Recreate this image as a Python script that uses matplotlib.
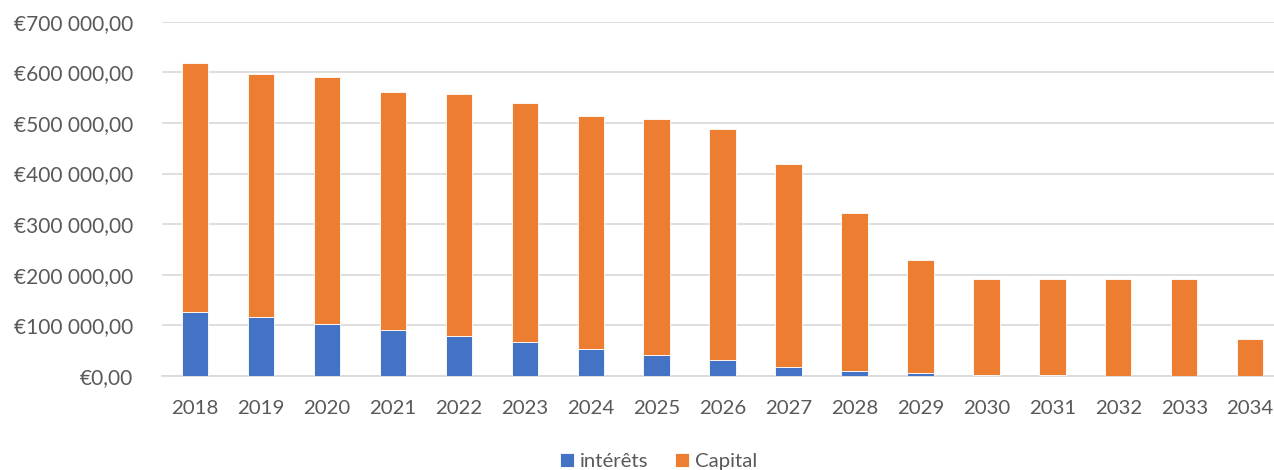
import matplotlib
matplotlib.use("Agg")
import matplotlib.pyplot as plt
from matplotlib.ticker import FuncFormatter, MultipleLocator

years = ["2018", "2019", "2020", "2021", "2022", "2023", "2024", "2025", "2026",
         "2027", "2028", "2029", "2030", "2031", "2032", "2033", "2034"]
totals = [617800, 596600, 590700, 561600, 556400, 539900, 513500, 508000, 488000,
          418000, 322000, 230000, 191200, 191200, 191200, 191200, 74000]
interets = [126600, 116000, 103600, 91000, 79000, 67200, 53400, 42300, 31600,
            18500, 9900, 6000, 2200, 1800, 800, 500, 300]
capital = [t - i for t, i in zip(totals, interets)]

plt.rcParams['font.family'] = ['Lato', 'DejaVu Sans']
fig = plt.figure(figsize=(12.74, 4.70), dpi=100)
ax = fig.add_axes([0.1272, 0.2, 0.880, 0.7538])

x = list(range(len(years)))
w = 0.40
ax.bar(x, interets, w, color="#4472C4", edgecolor="#ffffff", linewidth=0.6, label="intérêts", zorder=3)
ax.bar(x, capital, w, bottom=interets, color="#ED7D31", edgecolor="#ffffff", linewidth=0.6, label="Capital", zorder=3)

ax.set_xlim(-0.5, len(years) - 0.5)
ax.set_ylim(0, 700000)
ax.yaxis.set_major_locator(MultipleLocator(100000))

def fmt(v, pos):
    s = f"{int(round(v)):,}".replace(",", " ")
    return f"€{s},00"
ax.yaxis.set_major_formatter(FuncFormatter(fmt))
ax.set_xticks(x)
ax.set_xticklabels(years)

ax.grid(axis="y", color="#D9D9D9", linewidth=1.2, zorder=0)
for s in ["top", "right", "left"]:
    ax.spines[s].set_visible(False)
ax.spines["bottom"].set_color("#D9D9D9")
ax.spines["bottom"].set_linewidth(1.2)
ax.tick_params(axis="both", length=0, colors="#595959")
ax.tick_params(axis="y", pad=21, labelsize=15)
ax.tick_params(axis="x", pad=17, labelsize=14.7)

leg = fig.legend(loc="lower center", bbox_to_anchor=(0.517, -0.04), ncol=2, frameon=False,
                 fontsize=14.7, handlelength=0.7, handleheight=0.7, columnspacing=1.3,
                 handletextpad=0.3)
for t in leg.get_texts():
    t.set_color("#595959")

fig.savefig("out.png", dpi=100)
